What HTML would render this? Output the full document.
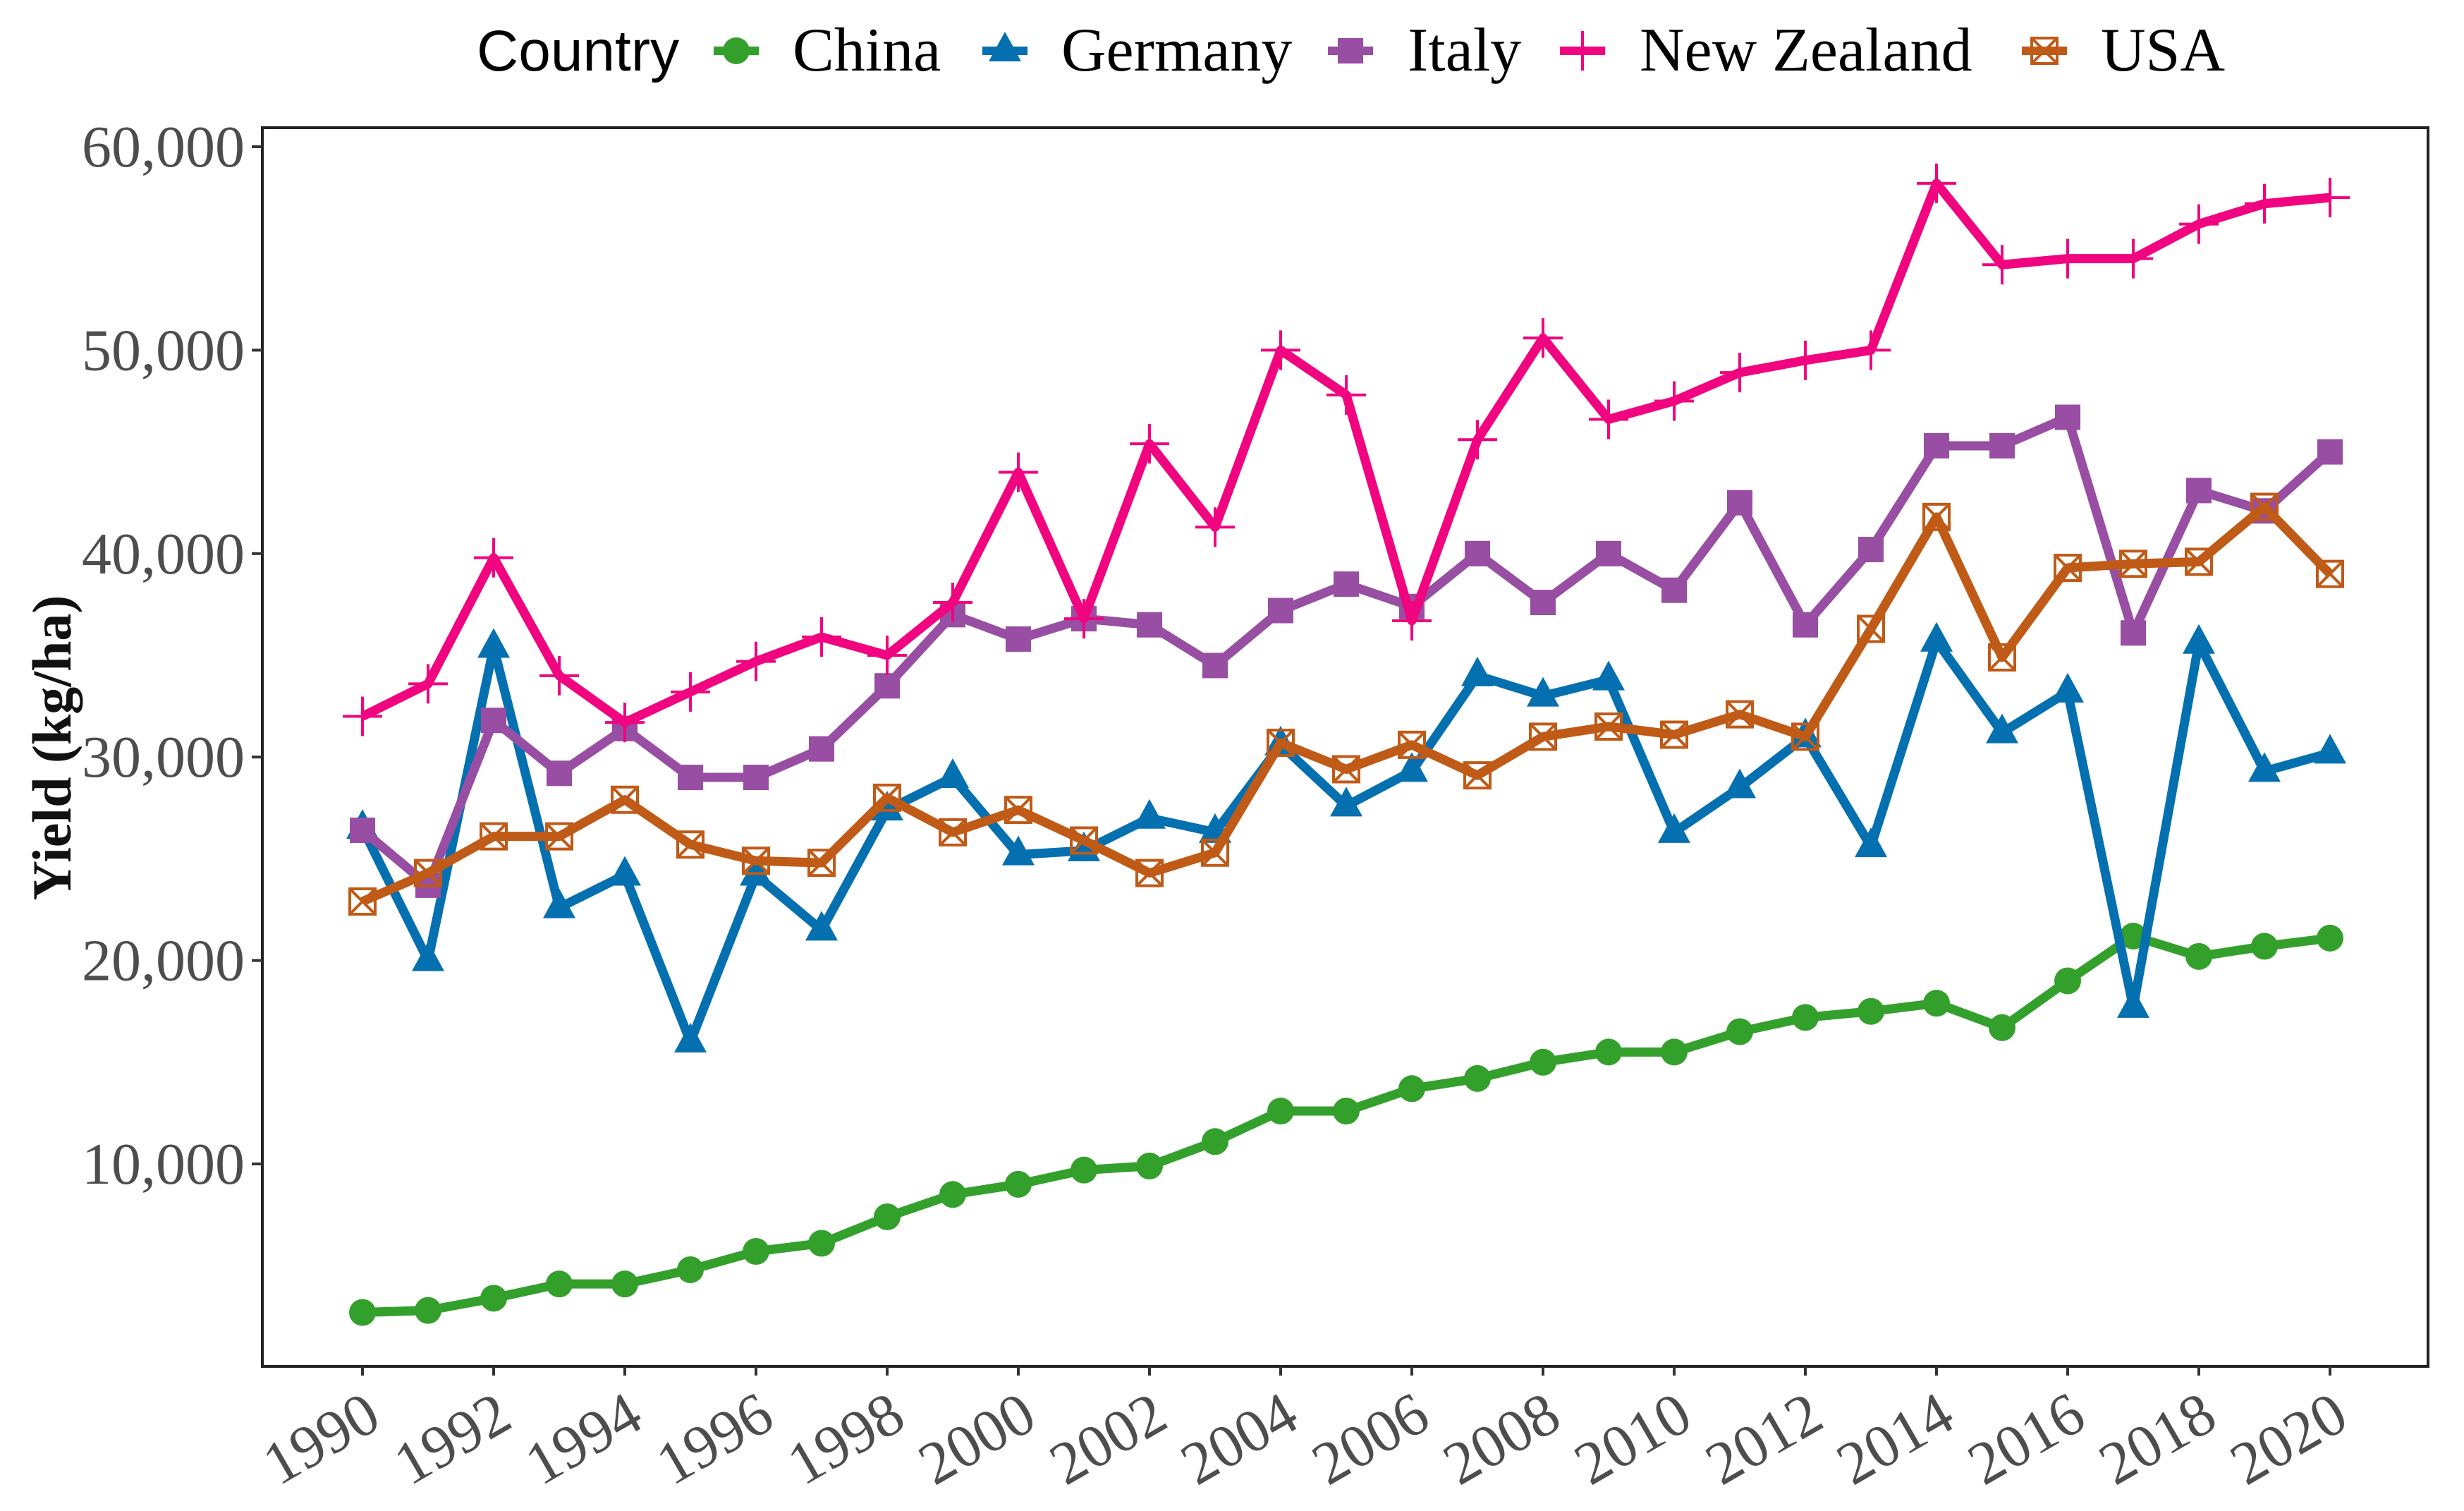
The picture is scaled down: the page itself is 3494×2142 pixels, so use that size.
<!DOCTYPE html>
<html><head><meta charset="utf-8"><style>
html,body{margin:0;padding:0;background:#fff;}
svg{display:block;}
</style></head><body>
<svg id="chart" width="3494" height="2142" viewBox="0 0 3494 2142" xmlns="http://www.w3.org/2000/svg">
<rect x="0" y="0" width="3494" height="2142" fill="#fff"/>
<g id="plot"></g>
</svg>
<script>
const years = [1990,1991,1992,1993,1994,1995,1996,1997,1998,1999,2000,2001,2002,2003,2004,2005,2006,2007,2008,2009,2010,2011,2012,2013,2014,2015,2016,2017,2018,2019,2020];
const china = [2700,2800,3400,4100,4100,4800,5700,6100,7400,8500,9000,9700,9900,11100,12600,12600,13700,14200,15000,15500,15500,16500,17200,17500,17900,16700,19000,21200,20200,20700,21100];
const germany = [26500,20000,35400,22600,24200,16000,24200,21500,27400,29000,25200,25400,27000,26300,30600,27600,29300,34000,33000,33800,26300,28500,31000,25600,35700,31200,33200,17700,35600,29300,30200];
const italy = [26400,23700,31800,29200,31400,29000,29000,30400,33500,37000,35800,36800,36500,34500,37200,38500,37400,40000,37600,40000,38200,42500,36500,40200,45300,45300,46700,36100,43100,42100,45000];
const newZealand = [32000,33600,39800,34000,31700,33200,34700,35900,35000,37600,44000,36800,45400,41300,50000,47800,36700,45600,50600,46600,47500,48900,49500,50000,58200,54200,54500,54500,56200,57200,57500];
const usa = [22900,24300,26100,26100,27900,25700,24900,24800,28000,26300,27400,25900,24300,25300,30700,29400,30600,29100,31000,31500,31100,32100,31000,36300,41800,34900,39300,39500,39600,42300,39000];
const yTicks = [10000,20000,30000,40000,50000,60000];
const yTickLabels = ["10,000","20,000","30,000","40,000","50,000","60,000"];
const xTicks = [1990,1992,1994,1996,1998,2000,2002,2004,2006,2008,2010,2012,2014,2016,2018,2020];
const seriesNames = ["China","Germany","Italy","New Zealand","USA"];
const seriesColors = ["#33a02c","#0570b0","#984ea3","#f0047f","#c05a17"];
const seriesShapes = ["circle","triangle","square","plus","boxx"];

const NS = "http://www.w3.org/2000/svg";
const L=372, R=3443, T=181, B=1937;
function xs(yr){ return 514 + (yr-1990)*93; }
function ys(v){ return 208 + (60000-v)/10000*288.4; }
const plot = document.getElementById('plot');
function mk(tag, attrs, parent){ const e=document.createElementNS(NS,tag); for(const k in attrs) e.setAttribute(k, attrs[k]); (parent||plot).appendChild(e); return e; }

const frame = mk('rect',{x:L,y:T,width:R-L,height:B-T,fill:'none',stroke:'#222','stroke-width':4});



yTicks.forEach((v,i)=>{
  const y=ys(v);
  const t=mk('line',{x1:357,x2:L,y1:y,y2:y,stroke:'#333','stroke-width':4});
  
  
  const lb=mk('text',{x:347,y:y+28,'text-anchor':'end','font-family':'"Liberation Serif", serif','font-size':84,fill:'#4d4d4d'});
  lb.textContent=yTickLabels[i];
  
  
});
xTicks.forEach(yr=>{
  const x=xs(yr);
  const t=mk('line',{x1:x,x2:x,y1:B,y2:B+13,stroke:'#333','stroke-width':4});
  
  
  const lb=mk('text',{x:0,y:0,'text-anchor':'end','font-family':'"Liberation Serif", serif','font-size':86,fill:'#4d4d4d',transform:`translate(${x+30},${B+84}) rotate(-30)`});
  lb.textContent=String(yr);
  
  
});
const yt=mk('text',{x:0,y:0,'text-anchor':'middle','font-family':'"Liberation Serif", serif','font-size':78,'font-weight':'bold',fill:'#111',transform:`translate(100,1060) rotate(-90)`});
yt.textContent='Yield (kg/ha)';



function marker(shape,x,y,color,parent,name){
  let e;
  if(shape==='circle') e=mk('circle',{cx:x,cy:y,r:19,fill:color},parent);
  else if(shape==='triangle') e=mk('polygon',{points:`${x},${y-27} ${x-23},${y+15} ${x+23},${y+15}`,fill:color},parent);
  else if(shape==='square') e=mk('rect',{x:x-18,y:y-18,width:36,height:36,fill:color},parent);
  else if(shape==='plus') e=mk('path',{d:`M${x-28},${y}H${x+28}M${x},${y-28}V${y+28}`,stroke:color,'stroke-width':4,fill:'none'},parent);
  else e=mk('path',{d:`M${x-18},${y-18}h36v36h-36zM${x-18},${y-18}L${x+18},${y+18}M${x+18},${y-18}L${x-18},${y+18}`,stroke:color,'stroke-width':4,fill:'none'},parent);
  
  
  return e;
}

const allData=[china,germany,italy,newZealand,usa];
allData.forEach((data,si)=>{
  const g=mk('g',{});
  
  
  const d=data.map((v,i)=>(i?'L':'M')+xs(years[i])+','+ys(v)).join('');
  const p=mk('path',{d:d,fill:'none',stroke:seriesColors[si],'stroke-width':13,'stroke-linejoin':'round'},g);
  
  
  data.forEach((v,i)=>marker(seriesShapes[si],xs(years[i]),ys(v),seriesColors[si],g,'point'));
});

const leg=mk('g',{});


const lt=mk('text',{x:676,y:100,'font-family':'"Liberation Sans", sans-serif','font-size':82,fill:'#000'},leg);
lt.textContent='Country';


const legMX=[1044,1425,1915,2244,2899];
const legTX=[1124,1505,1996,2325,2979];
seriesNames.forEach((n,i)=>{
  const eg=mk('g',{},leg);
  
  
  const ln=mk('line',{x1:legMX[i]-32,x2:legMX[i]+32,y1:72,y2:72,stroke:seriesColors[i],'stroke-width':12},eg);
  
  
  marker(seriesShapes[i],legMX[i],72,seriesColors[i],eg,'legend-key-marker');
  const tx=mk('text',{x:legTX[i],y:100,'font-family':'"Liberation Serif", serif','font-size':88,fill:'#000'},eg);
  tx.textContent=n;
  
  
});
</script>
</body></html>
